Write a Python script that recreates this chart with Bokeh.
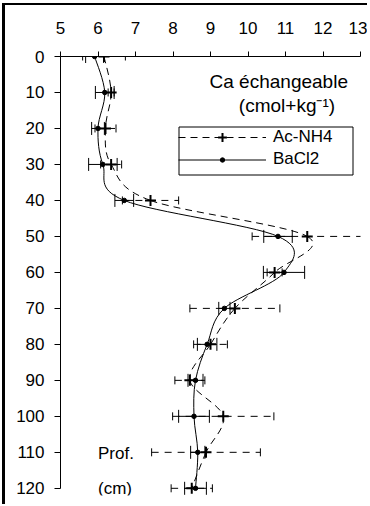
from bokeh.plotting import figure
from bokeh.models import (Range1d, Whisker, TeeHead, ColumnDataSource, Legend,
                          LegendItem, Label, FixedTicker, BoxAnnotation)
from bokeh.embed import file_html
from bokeh.resources import INLINE

# ---- data ----
depth = [0, 10, 20, 30, 40, 50, 60, 70, 80, 90, 100, 110, 120]
acnh4 = [6.16, 6.35, 6.2, 6.35, 7.4, 11.58, 10.71, 9.65, 9.0, 8.45, 9.34, 8.88, 8.5]
acnh4_err = [0.57, 0.08, 0.28, 0.28, 0.75, 1.47, 0.2, 1.2, 0.45, 0.4, 1.35, 1.45, 0.55]
bacl2 = [5.91, 6.18, 6.0, 6.13, 6.7, 10.8, 10.96, 9.37, 8.91, 8.6, 8.56, 8.66, 8.6]
bacl2_err = [0.24, 0.25, 0.17, 0.38, 0.25, 0.38, 0.55, 0.15, 0.26, 0.2, 0.41, 0.19, 0.29]
x_ticks = [5, 6, 7, 8, 9, 10, 11, 12, 13]
y_ticks = [0, 10, 20, 30, 40, 50, 60, 70, 80, 90, 100, 110, 120]
series_names = ["Ac-NH4", "BaCl2"]
title_lines = ["Ca échangeable", "(cmol+kg⁻¹)"]
depth_label = ["Prof.", "(cm)"]

FONT = "Liberation Sans"


def smooth_segments(xs, ys):
    """Bezier control points of a Catmull-Rom style smoothed line through the data."""
    n = len(xs)
    out = dict(x0=[], y0=[], x1=[], y1=[], cx0=[], cy0=[], cx1=[], cy1=[])
    for i in range(n - 1):
        im = i - 1 if i > 0 else i
        ip2 = i + 2 if i + 2 < n else i + 1
        out["x0"].append(xs[i]); out["y0"].append(ys[i])
        out["x1"].append(xs[i + 1]); out["y1"].append(ys[i + 1])
        out["cx0"].append(xs[i] + (xs[i + 1] - xs[im]) / 6.0)
        out["cy0"].append(ys[i] + (ys[i + 1] - ys[im]) / 6.0)
        out["cx1"].append(xs[i + 1] - (xs[ip2] - xs[i]) / 6.0)
        out["cy1"].append(ys[i + 1] - (ys[ip2] - ys[i]) / 6.0)
    return out


p = figure(width=365, height=501, output_backend="svg", toolbar_location=None,
           x_range=Range1d(5, 13), y_range=Range1d(122, 0),
           x_axis_location="above",
           min_border_left=55, min_border_right=10, min_border_top=51, min_border_bottom=11)
# outer frame of the figure: only its left and top edges show in the reference
p.styles = {"margin-left": "2px", "margin-top": "3px",
            "border-left": "3px solid black", "border-top": "2px solid black"}

p.xgrid.visible = False
p.ygrid.visible = False
p.outline_line_color = None
p.background_fill_color = "white"
p.border_fill_color = None

p.xaxis.ticker = FixedTicker(ticks=x_ticks)
p.yaxis.ticker = FixedTicker(ticks=y_ticks)
p.xaxis.bounds = (x_ticks[0], x_ticks[-1])
p.yaxis.bounds = (y_ticks[0], y_ticks[-1])
for ax in (p.xaxis[0], p.yaxis[0]):
    ax.axis_line_color = "black"
    ax.axis_line_width = 1
    ax.major_tick_line_color = "black"
    ax.major_tick_in = 0
    ax.minor_tick_line_color = None
    ax.major_label_text_font = FONT
    ax.major_label_text_font_size = "17px"
    ax.major_label_text_color = "black"
p.xaxis.major_tick_out = 5
p.xaxis.major_label_standoff = 18
p.yaxis.major_tick_out = 6
p.yaxis.major_label_standoff = 10

src_ac = ColumnDataSource(dict(depth=depth, x=acnh4,
                               lo=[m - e for m, e in zip(acnh4, acnh4_err)],
                               hi=[m + e for m, e in zip(acnh4, acnh4_err)]))
src_ba = ColumnDataSource(dict(depth=depth, x=bacl2,
                               lo=[m - e for m, e in zip(bacl2, bacl2_err)],
                               hi=[m + e for m, e in zip(bacl2, bacl2_err)]))

# error bars
w_ac = Whisker(source=src_ac, base="depth", lower="lo", upper="hi", dimension="width",
               line_color="black", line_width=1, line_dash="7 6",
               lower_head=TeeHead(size=8, line_color="black", line_width=1),
               upper_head=TeeHead(size=8, line_color="black", line_width=1))
w_ba = Whisker(source=src_ba, base="depth", lower="lo", upper="hi", dimension="width",
               line_color="black", line_width=1,
               lower_head=TeeHead(size=13, line_color="black", line_width=1),
               upper_head=TeeHead(size=13, line_color="black", line_width=1))
p.add_layout(w_ac)
p.add_layout(w_ba)

# smoothed lines
seg_ac = ColumnDataSource(smooth_segments(acnh4, depth))
seg_ba = ColumnDataSource(smooth_segments(bacl2, depth))
c_ac = p.bezier(x0="x0", y0="y0", x1="x1", y1="y1", cx0="cx0", cy0="cy0", cx1="cx1", cy1="cy1",
                source=seg_ac, line_color="black", line_width=1, line_dash="7 5")
c_ba = p.bezier(x0="x0", y0="y0", x1="x1", y1="y1", cx0="cx0", cy0="cy0", cx1="cx1", cy1="cy1",
                source=seg_ba, line_color="black", line_width=1)

m_ac = p.scatter(x="x", y="depth", source=src_ac, marker="cross", size=11,
                 line_color="black", line_width=2)
m_ba = p.scatter(x="x", y="depth", source=src_ba, marker="circle", size=4.5,
                 line_color="black", fill_color="black")

# legend box + two single-entry legends (so each marker gets its own size)
p.add_layout(BoxAnnotation(left=170.5, right=344.5, top=119.5, bottom=167.5,
                           left_units="canvas", right_units="canvas",
                           top_units="canvas", bottom_units="canvas",
                           fill_color="white", fill_alpha=1,
                           line_color="black", line_width=1, line_alpha=1))
common = dict(orientation="vertical", border_line_color=None, background_fill_alpha=0,
              label_text_font=FONT, label_text_font_size="17px", label_text_color="black",
              glyph_width=88, label_height=22, label_standoff=7,
              spacing=0, padding=0, margin=0)
leg_a = Legend(items=[LegendItem(label=series_names[0], renderers=[c_ac, m_ac])],
               location=(118, 347), glyph_height=22, **common)
leg_b = Legend(items=[LegendItem(label=series_names[1], renderers=[c_ba, m_ba])],
               location=(118, 325), glyph_height=11, **common)
p.add_layout(leg_a)
p.add_layout(leg_b)

p.add_layout(Label(x=10.82, y=6.9, text=title_lines[0], text_align="center",
                   text_baseline="middle", text_font=FONT, text_font_size="19px",
                   text_color="black"))
p.add_layout(Label(x=11.04, y=13.6, text=title_lines[1], text_align="center",
                   text_baseline="middle", text_font=FONT, text_font_size="19px",
                   text_color="black"))
p.add_layout(Label(x=6.0, y=110.3, text=depth_label[0], text_align="left",
                   text_baseline="middle", text_font=FONT, text_font_size="17px",
                   text_color="black"))
p.add_layout(Label(x=6.0, y=120, text=depth_label[1], text_align="left",
                   text_baseline="middle", text_font=FONT, text_font_size="17px",
                   text_color="black"))

open("out.html", "w").write(file_html(p, INLINE))
